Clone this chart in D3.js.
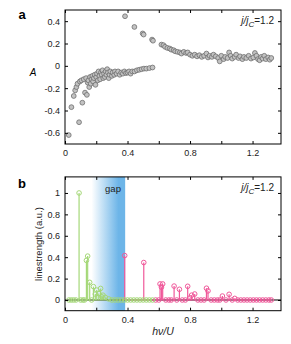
<!DOCTYPE html>
<html>
<head>
<meta charset="utf-8">
<script src="https://cdn.jsdelivr.net/npm/d3@7"></script>
<style>
  body { margin: 0; background: #fff; }
  text { font-family: "Liberation Sans", Arial, sans-serif; }
</style>
</head>
<body>
<svg id="chart" width="291" height="344"></svg>
<script>
// panel a: asymmetry A vs h nu / U (two branches)
const lowerV = [0.024, 0.041, 0.056, 0.065, 0.073, 0.080, 0.090, 0.095, 0.105, 0.111,
  0.120, 0.128, 0.135, 0.140, 0.145, 0.150, 0.155, 0.160, 0.165, 0.170, 0.175, 0.180,
  0.185, 0.190, 0.195, 0.200, 0.205, 0.210, 0.215, 0.220, 0.225, 0.230, 0.235, 0.240,
  0.245, 0.250, 0.255, 0.260, 0.265, 0.270, 0.275, 0.280, 0.285, 0.290, 0.300, 0.305,
  0.315, 0.320, 0.330, 0.340, 0.350, 0.360, 0.370, 0.380, 0.390, 0.400, 0.410, 0.420,
  0.430, 0.445, 0.460, 0.475, 0.490, 0.505, 0.520, 0.540, 0.560];
const lowerA = [-0.62, -0.37, -0.27, -0.22, -0.19, -0.16, -0.505, -0.14, -0.13, -0.33,
  -0.12, -0.24, -0.11, -0.26, -0.15, -0.13, -0.19, -0.10, -0.16, -0.12, -0.09, -0.14,
  -0.11, -0.08, -0.17, -0.10, -0.07, -0.13, -0.05, -0.09, -0.12, -0.06, -0.08, -0.04,
  -0.11, -0.07, -0.10, -0.05, -0.08, -0.03, -0.06, -0.11, -0.08, -0.05, -0.09, -0.06,
  -0.08, -0.05, -0.07, -0.05, -0.08, -0.06, -0.07, -0.05, -0.065, -0.06, -0.05, -0.07,
  -0.05, -0.05, -0.04, -0.035, -0.03, -0.025, -0.025, -0.02, -0.015];
const upperV = [0.384, 0.444, 0.497, 0.503, 0.557, 0.563, 0.617, 0.630, 0.640, 0.655,
  0.670, 0.680, 0.695, 0.705, 0.720, 0.735, 0.745, 0.760, 0.775, 0.785, 0.800, 0.815,
  0.830, 0.845, 0.860, 0.875, 0.890, 0.905, 0.915, 0.925, 0.940, 0.950, 0.965, 0.980,
  0.990, 1.000, 1.015, 1.025, 1.040, 1.050, 1.060, 1.070, 1.085, 1.095, 1.110, 1.120,
  1.135, 1.145, 1.160, 1.175, 1.190, 1.205, 1.215, 1.225, 1.235, 1.245, 1.255, 1.265,
  1.275, 1.285, 1.300, 1.310, 1.320];
const upperA = [0.444, 0.348, 0.29, 0.28, 0.235, 0.225, 0.19, 0.185, 0.17, 0.16,
  0.155, 0.145, 0.14, 0.13, 0.125, 0.12, 0.11, 0.125, 0.115, 0.12, 0.10, 0.09,
  0.10, 0.085, 0.095, 0.08, 0.09, 0.11, 0.075, 0.09, 0.08, 0.10, 0.085, 0.07,
  0.04, 0.09, 0.06, 0.08, 0.07, 0.12, 0.09, 0.065, 0.08, 0.10, 0.07, 0.085,
  0.06, 0.08, 0.07, 0.09, 0.065, 0.075, 0.115, 0.09, 0.06, 0.05, 0.08, 0.065,
  0.09, 0.06, 0.075, 0.055, 0.07];

// panel b: line strengths
const greenV = [0.025, 0.04, 0.055, 0.07, 0.09, 0.10, 0.115, 0.125, 0.137, 0.145, 0.158,
  0.17, 0.182, 0.194, 0.203, 0.216, 0.228, 0.236, 0.243, 0.258, 0.28, 0.30, 0.32, 0.34,
  0.36, 0.38, 0.40, 0.42, 0.44, 0.46, 0.48, 0.50, 0.52, 0.54, 0.56];
const greenL = [0, 0, 0, 0, 1.0, 0, 0, 0, 0.37, 0.41, 0.165,
  0, 0.125, 0.055, 0.093, 0.06, 0.108, 0.03, 0.045, 0.025, 0.01, 0, 0, 0,
  0, 0, 0, 0, 0, 0, 0, 0, 0, 0, 0];
const pinkV = [0.382, 0.504, 0.58, 0.60, 0.608, 0.617, 0.625, 0.645, 0.665, 0.68, 0.698,
  0.715, 0.732, 0.75, 0.77, 0.785, 0.80, 0.81, 0.83, 0.85, 0.87, 0.89, 0.905, 0.915,
  0.935, 0.955, 0.975, 0.99, 1.007, 1.03, 1.05, 1.07, 1.086, 1.105, 1.125, 1.145,
  1.165, 1.185, 1.205, 1.225, 1.245, 1.265, 1.285, 1.305, 1.32];
const pinkL = [0.415, 0.35, 0, 0, 0.15, 0.12, 0.15, 0, 0, 0, 0.13,
  0, 0.10, 0, 0, 0.128, 0.02, 0.045, 0.056, 0, 0, 0, 0.11, 0.085,
  0, 0, 0, 0, 0.037, 0, 0.053, 0, 0.015, 0, 0, 0,
  0, 0, 0, 0, 0, 0, 0, 0, 0];

const xTicks = [0, 0.2, 0.4, 0.6, 0.8, 1.0, 1.2];
const xLabels = [0, 0.4, 0.8, 1.2];
const aTicks = [-0.6, -0.4, -0.2, 0, 0.2, 0.4];
const bTicks = [0, 0.2, 0.4, 0.6, 0.8, 1];
const gapRange = [0.17, 0.385];

const svg = d3.select("#chart");
const left = 65, right = 281;

const fmt = v => Math.abs(v) < 1e-9 ? "0" : String(+v.toFixed(1));

const x = d3.scaleLinear().domain([0, 1.382]).range([left, right]);
const yA = d3.scaleLinear().domain([-0.7, 0.5]).range([144, 10]);
const yB = d3.scaleLinear().domain([-0.1, 1.15]).range([310.7, 176.9]);

function frame(y) {
  const top = y.range()[1], bottom = y.range()[0];
  const tick = 3;
  svg.append("g").attr("transform", `translate(0,${bottom})`)
    .call(d3.axisBottom(x).tickValues(xTicks).tickSize(-tick).tickPadding(6)
      .tickFormat(v => xLabels.some(l => Math.abs(l - v) < 1e-9) ? fmt(v) : ""))
    .call(g => g.select(".domain").remove());
  svg.append("g").attr("transform", `translate(0,${top})`)
    .call(d3.axisTop(x).tickValues(xTicks).tickSize(-tick).tickFormat(""))
    .call(g => g.select(".domain").remove());
  svg.append("g").attr("transform", `translate(${left},0)`)
    .call(d3.axisLeft(y).tickValues(y === yA ? aTicks : bTicks).tickSize(-tick).tickPadding(5)
      .tickFormat(fmt))
    .call(g => g.select(".domain").remove());
  svg.append("g").attr("transform", `translate(${right},0)`)
    .call(d3.axisRight(y).tickValues(y === yA ? aTicks : bTicks).tickSize(-tick).tickFormat(""))
    .call(g => g.select(".domain").remove());
  svg.selectAll(".tick text").attr("font-size", 9).attr("fill", "#222")
    .attr("font-family", "Liberation Sans, Arial, sans-serif");
  svg.append("rect")
    .attr("x", left).attr("y", top)
    .attr("width", right - left).attr("height", bottom - top)
    .attr("fill", "none").attr("stroke", "#000").attr("stroke-width", 1);
}

function ratioLabel(yBase) {
  const t = svg.append("text").attr("x", 274).attr("y", yBase)
    .attr("text-anchor", "end").attr("font-size", 10).attr("fill", "#222");
  t.append("tspan").attr("font-style", "italic").text("j/j");
  t.append("tspan").attr("font-style", "italic").attr("font-size", 8).attr("dy", 3).text("C");
  t.append("tspan").attr("dy", -3).text("=1.2");
}

// ---- panel a ----
const ptsA = lowerV.map((v, i) => [v, lowerA[i]])
  .concat(upperV.map((v, i) => [v, upperA[i]]));
svg.append("g").selectAll("circle").data(ptsA).join("circle")
  .attr("cx", d => x(d[0])).attr("cy", d => yA(d[1])).attr("r", 2.4)
  .attr("fill", "#c2c2c2").attr("stroke", "#6f6f6f").attr("stroke-width", 0.8);
frame(yA);
ratioLabel(24);
svg.append("text").attr("x", 22).attr("y", 19).attr("text-anchor", "middle")
  .attr("font-size", 13).attr("font-weight", "bold").text("a");
svg.append("text").attr("x", 33).attr("y", 76).attr("text-anchor", "middle")
  .attr("font-size", 10).attr("font-style", "italic").text("A");

// ---- panel b ----
const grad = svg.append("defs").append("linearGradient").attr("id", "gapGrad")
  .attr("gradientUnits", "userSpaceOnUse")
  .attr("x1", x(gapRange[0])).attr("x2", x(gapRange[1])).attr("y1", 0).attr("y2", 0);
grad.append("stop").attr("offset", 0).attr("stop-color", "#ffffff");
grad.append("stop").attr("offset", 0.8).attr("stop-color", "#6db5e8");
grad.append("stop").attr("offset", 1).attr("stop-color", "#6db5e8");
svg.append("rect")
  .attr("x", x(gapRange[0])).attr("y", yB.range()[1])
  .attr("width", x(gapRange[1]) - x(gapRange[0]))
  .attr("height", yB.range()[0] - yB.range()[1])
  .attr("fill", "url(#gapGrad)");
svg.append("text").attr("x", 113).attr("y", 192).attr("text-anchor", "middle")
  .attr("font-size", 9.5).attr("fill", "#222").text("gap");

svg.append("line").attr("x1", left).attr("x2", right)
  .attr("y1", yB(0)).attr("y2", yB(0)).attr("stroke", "#000").attr("stroke-width", 1);

const green = "#a5d878", pink = "#f0589a";
function stems(vs, ls, color) {
  const pts = vs.map((v, i) => [v, ls[i]]);
  const g = svg.append("g");
  g.append("line").attr("x1", x(d3.min(vs))).attr("x2", x(d3.max(vs)))
    .attr("y1", yB(0)).attr("y2", yB(0)).attr("stroke", color).attr("stroke-width", 1.2);
  g.selectAll("line.stem").data(pts.filter(d => d[1] > 0)).join("line").attr("class", "stem")
    .attr("x1", d => x(d[0])).attr("x2", d => x(d[0]))
    .attr("y1", yB(0)).attr("y2", d => yB(d[1]))
    .attr("stroke", color).attr("stroke-width", 1.2);
  g.selectAll("circle").data(pts).join("circle")
    .attr("cx", d => x(d[0])).attr("cy", d => yB(d[1])).attr("r", 2.3)
    .attr("fill", "none").attr("stroke", color).attr("stroke-width", 1);
}
stems(pinkV, pinkL, pink);
stems(greenV, greenL, green);

frame(yB);
ratioLabel(191);
svg.append("text").attr("x", 22).attr("y", 188).attr("text-anchor", "middle")
  .attr("font-size", 13).attr("font-weight", "bold").text("b");
svg.append("text").attr("transform", "translate(42,244) rotate(-90)")
  .attr("text-anchor", "middle").attr("font-size", 9.5).attr("fill", "#222")
  .text("linestrength (a.u.)");
const xl = svg.append("text").attr("x", 163).attr("y", 335).attr("text-anchor", "middle")
  .attr("font-size", 10.5).attr("font-style", "italic").attr("fill", "#222");
xl.text("hν/U");
</script>
</body>
</html>
